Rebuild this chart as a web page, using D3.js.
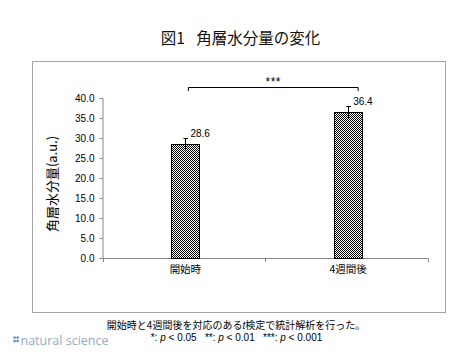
<!DOCTYPE html>
<html>
<head>
<meta charset="utf-8">
<script src="https://cdn.jsdelivr.net/npm/d3@7"></script>
<style>
  html, body { margin: 0; padding: 0; background: #fff; }
  svg { display: block; }
  text { white-space: pre; }
</style>
</head>
<body>
<svg id="chart" width="476" height="355"></svg>
<script>
// ---- data ----
const categories = ["開始時", "4週間後"];
const values = [28.6, 36.4];
const errors = [1.4, 1.6];
const yTicks = [0, 5, 10, 15, 20, 25, 30, 35, 40];
const titleText = "図1\u2002 角層水分量の変化";
const yTitle = "角層水分量(a.u.)";
const significance = "***";

const svg = d3.select("#chart");
const jp = "'Noto Sans CJK JP', 'Liberation Sans', sans-serif";
const num = "'Liberation Sans', Arial, 'Noto Sans CJK JP', sans-serif";

// pattern (checkerboard)
const defs = svg.append("defs");
const pat = defs.append("pattern").attr("id", "checker")
  .attr("width", 2).attr("height", 2).attr("patternUnits", "userSpaceOnUse");
pat.append("rect").attr("width", 2).attr("height", 2).attr("fill", "#fff");
pat.append("rect").attr("x", 0).attr("y", 0).attr("width", 1).attr("height", 1).attr("fill", "#000");
pat.append("rect").attr("x", 1).attr("y", 1).attr("width", 1).attr("height", 1).attr("fill", "#000");

// title
svg.append("text").attr("x", 240.5).attr("y", 44).attr("text-anchor", "middle")
  .attr("font-family", jp).attr("font-size", 15.5).attr("fill", "#111").text(titleText);

// frame
svg.append("rect").attr("x", 32.5).attr("y", 61.5).attr("width", 413).attr("height", 251)
  .attr("fill", "none").attr("stroke", "#a6a6a6").attr("stroke-width", 1);

// scales
const x = d3.scaleBand().domain(categories).range([102.5, 428]).padding(0);
const y = d3.scaleLinear().domain([0, 40]).range([258, 98]);
const barW = 28;
const cx = c => x(c) + x.bandwidth() / 2 + 1.5;

// y axis
const yAxis = svg.append("g").attr("transform", "translate(102.5,0)")
  .call(d3.axisLeft(y).tickValues(yTicks).tickFormat(d3.format(".1f")).tickSize(3).tickPadding(5));
yAxis.select(".domain").attr("stroke", "#868686");
yAxis.selectAll(".tick line").attr("stroke", "#868686");
yAxis.selectAll(".tick text").attr("font-family", num).attr("font-size", 10).attr("fill", "#000");

// x axis: ticks at category boundaries
const xg = svg.append("g");
xg.append("line").attr("x1", 100).attr("x2", x.range()[1]).attr("y1", 258.5).attr("y2", 258.5)
  .attr("stroke", "#868686");
const bounds = categories.map(c => x(c)).concat([x.range()[1]]);
xg.selectAll(".xt").data(bounds).enter().append("line")
  .attr("x1", d => Math.round(d) + 0.5).attr("x2", d => Math.round(d) + 0.5)
  .attr("y1", 258.5).attr("y2", 262).attr("stroke", "#868686");
xg.selectAll(".xl").data(categories).enter().append("text")
  .attr("x", d => cx(d)).attr("y", 273).attr("text-anchor", "middle")
  .attr("font-family", jp).attr("font-size", 10.5).attr("fill", "#000").text(d => d);

// bars
const data = categories.map((c, i) => ({ c, v: values[i], e: errors[i] }));
svg.selectAll(".bar").data(data).enter().append("rect")
  .attr("x", d => Math.round(cx(d.c) - barW / 2) + 0.5)
  .attr("y", d => Math.round(y(d.v)) + 0.5)
  .attr("width", barW)
  .attr("height", d => y(0) - Math.round(y(d.v)))
  .attr("fill", "url(#checker)").attr("stroke", "#000").attr("stroke-width", 1);

// error bars
const eg = svg.append("g").attr("stroke", "#000").attr("stroke-width", 1);
data.forEach(d => {
  const xc = Math.round(cx(d.c)) + 0.5;
  eg.append("line").attr("x1", xc).attr("x2", xc).attr("y1", y(d.v + d.e)).attr("y2", y(d.v - d.e));
  eg.append("line").attr("x1", xc - 2).attr("x2", xc + 2.5).attr("y1", Math.round(y(d.v + d.e)) + 0.5).attr("y2", Math.round(y(d.v + d.e)) + 0.5);
});

// value labels
svg.selectAll(".vl").data(data).enter().append("text")
  .attr("x", d => cx(d.c) + 5).attr("y", d => y(d.v + d.e) - 1)
  .attr("font-family", num).attr("font-size", 10).attr("fill", "#000")
  .text(d => d.v.toFixed(1));

// significance bracket
const bx1 = cx(categories[0]) + 3, bx2 = cx(categories[1]) + 10;
const by = 87.5;
svg.append("path")
  .attr("d", `M${bx1},${by + 3.5}V${by}H${bx2}V${by + 3.5}`)
  .attr("fill", "none").attr("stroke", "#000").attr("stroke-width", 1);
svg.append("text").attr("x", (bx1 + bx2) / 2).attr("y", 86).attr("text-anchor", "middle")
  .attr("font-family", num).attr("font-size", 12).attr("letter-spacing", 0.5).attr("fill", "#000").text(significance);

// y title
svg.append("text").attr("transform", "translate(57,184) rotate(-90)")
  .attr("text-anchor", "middle").attr("font-family", jp).attr("font-size", 13).attr("fill", "#000")
  .text(yTitle);

// footnotes
const f1 = svg.append("text").attr("x", 236).attr("y", 328.5).attr("text-anchor", "middle")
  .attr("font-family", jp).attr("font-size", 10).attr("fill", "#000");
f1.append("tspan").text("開始時と4週間後を対応のある");
f1.append("tspan").attr("font-style", "italic").attr("font-family", num).text("t");
f1.append("tspan").text("検定で統計解析を行った。");

const f2 = svg.append("text").attr("x", 236.5).attr("y", 341).attr("text-anchor", "middle")
  .attr("font-family", num).attr("font-size", 10).attr("fill", "#000");
[["*: ", "p", " < 0.05   "], ["**: ", "p", " < 0.01   "], ["***: ", "p", " < 0.001"]].forEach(p => {
  f2.append("tspan").text(p[0]);
  f2.append("tspan").attr("font-style", "italic").text(p[1]);
  f2.append("tspan").text(p[2]);
});

// logo
const lg = svg.append("g");
[[14.5, 337.5], [17.5, 337.5], [14.5, 341], [17.5, 341]].forEach(p => {
  lg.append("rect").attr("x", p[0] - 1).attr("y", p[1] - 1).attr("width", 2.2).attr("height", 2.2)
    .attr("fill", "#4f86c0");
});
lg.append("text").attr("x", 20.5).attr("y", 344.5).attr("font-family", "'Open Sans', sans-serif")
  .attr("font-size", 12.5).attr("fill", "#94abc2").text("natural science");
</script>
</body>
</html>
